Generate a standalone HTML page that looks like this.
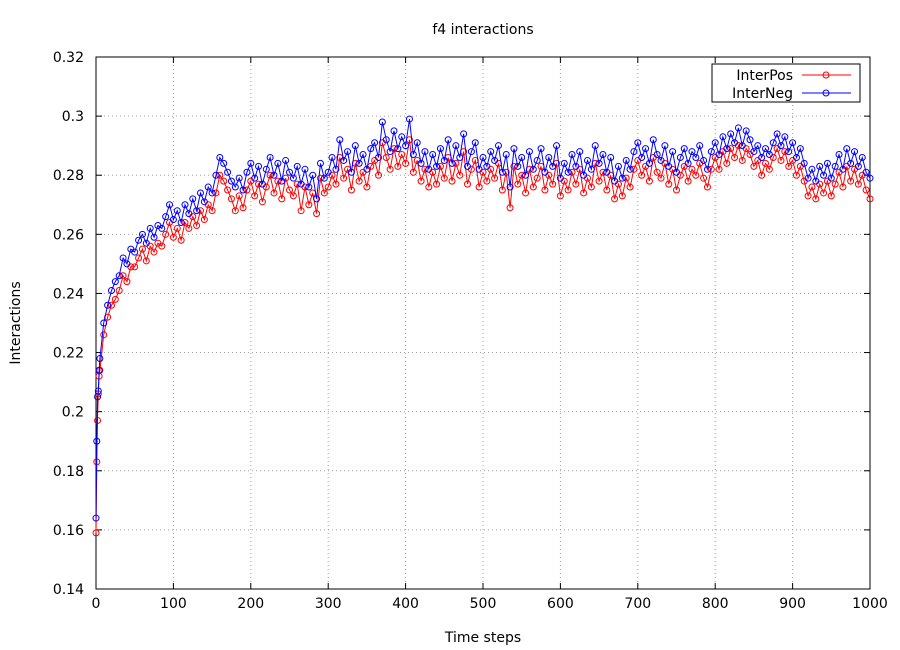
<!DOCTYPE html>
<html><head><meta charset="utf-8"><style>
body{margin:0;background:#fff}
svg{display:block;font-family:"DejaVu Sans","Liberation Sans",sans-serif}
</style></head><body>
<svg id="chart" width="900" height="650" viewBox="0 0 900 650">
<rect width="900" height="650" fill="#fff"/>
<text x="483" y="34" font-size="14" text-anchor="middle">f4 interactions</text>
<text x="483" y="642" font-size="14" text-anchor="middle">Time steps</text>
<text transform="translate(20,323) rotate(-90)" font-size="14" text-anchor="middle">Interactions</text>
<g id="grid"></g><g id="axes"></g><g id="series"></g>
<g>
<rect x="712" y="64" width="148" height="38" fill="#fff" stroke="#000"/>
<g>
<text x="793" y="80" font-size="14" text-anchor="end">InterPos</text>
<line x1="802" y1="75" x2="851" y2="75" stroke="#f00"/><circle cx="826" cy="75" r="3" fill="none" stroke="#f00"/></g>
<g>
<text x="793" y="98" font-size="14" text-anchor="end">InterNeg</text>
<line x1="802" y1="93" x2="851" y2="93" stroke="#00f"/><circle cx="826" cy="93" r="3" fill="none" stroke="#00f"/></g>
</g>
</svg>
<script>
const steps=[0,1,2,3,4,5,10,15,20,25,30,35,40,45,50,55,60,65,70,75,80,85,90,95,100,105,110,115,120,125,130,135,140,145,150,155,160,165,170,175,180,185,190,195,200,205,210,215,220,225,230,235,240,245,250,255,260,265,270,275,280,285,290,295,300,305,310,315,320,325,330,335,340,345,350,355,360,365,370,375,380,385,390,395,400,405,410,415,420,425,430,435,440,445,450,455,460,465,470,475,480,485,490,495,500,505,510,515,520,525,530,535,540,545,550,555,560,565,570,575,580,585,590,595,600,605,610,615,620,625,630,635,640,645,650,655,660,665,670,675,680,685,690,695,700,705,710,715,720,725,730,735,740,745,750,755,760,765,770,775,780,785,790,795,800,805,810,815,820,825,830,835,840,845,850,855,860,865,870,875,880,885,890,895,900,905,910,915,920,925,930,935,940,945,950,955,960,965,970,975,980,985,990,995,1000];
const interPos=[0.159,0.183,0.197,0.206,0.212,0.214,0.226,0.232,0.236,0.238,0.241,0.246,0.244,0.249,
0.249,0.252,0.255,0.251,0.256,0.254,0.257,0.256,0.260,0.264,
0.259,0.262,0.258,0.264,0.262,0.266,0.263,0.268,0.265,0.270,
0.268,0.274,0.280,0.278,0.275,0.272,0.268,0.273,0.269,0.275,
0.278,0.273,0.277,0.271,0.276,0.280,0.274,0.278,0.272,0.279,
0.275,0.273,0.277,0.268,0.276,0.270,0.274,0.267,0.279,0.274,
0.276,0.280,0.277,0.286,0.279,0.282,0.275,0.284,0.278,0.281,
0.276,0.283,0.285,0.280,0.291,0.286,0.282,0.289,0.283,0.287,
0.284,0.292,0.281,0.285,0.278,0.282,0.276,0.281,0.277,0.283,
0.279,0.286,0.278,0.284,0.280,0.288,0.277,0.282,0.285,0.276,
0.281,0.278,0.282,0.279,0.284,0.275,0.281,0.269,0.283,0.277,
0.280,0.274,0.282,0.276,0.279,0.283,0.275,0.280,0.277,0.284,
0.273,0.278,0.275,0.281,0.277,0.282,0.274,0.279,0.276,0.284,
0.278,0.281,0.275,0.280,0.272,0.277,0.273,0.279,0.276,0.282,
0.285,0.280,0.283,0.278,0.286,0.281,0.279,0.284,0.277,0.282,
0.275,0.280,0.283,0.278,0.282,0.280,0.284,0.279,0.276,0.282,
0.286,0.282,0.288,0.284,0.289,0.286,0.290,0.285,0.289,0.287,
0.283,0.285,0.280,0.284,0.282,0.286,0.289,0.285,0.288,0.283,
0.285,0.280,0.283,0.278,0.273,0.276,0.272,0.277,0.274,0.278,
0.273,0.277,0.281,0.276,0.283,0.278,0.282,0.277,0.280,0.275,0.272];
const interNeg=[0.164,0.190,0.205,0.207,0.214,0.218,0.230,0.236,0.241,0.244,0.246,0.252,0.250,0.255,
0.254,0.258,0.260,0.257,0.262,0.259,0.263,0.262,0.266,0.270,
0.265,0.268,0.264,0.270,0.267,0.272,0.268,0.274,0.271,0.276,
0.274,0.280,0.286,0.284,0.281,0.278,0.276,0.279,0.275,0.281,
0.284,0.279,0.283,0.277,0.282,0.286,0.280,0.284,0.278,0.285,
0.281,0.279,0.283,0.277,0.282,0.276,0.280,0.272,0.284,0.279,
0.281,0.286,0.282,0.292,0.285,0.288,0.281,0.290,0.284,0.287,
0.282,0.289,0.291,0.286,0.298,0.292,0.288,0.295,0.289,0.293,
0.290,0.299,0.287,0.291,0.284,0.288,0.282,0.287,0.283,0.289,
0.285,0.292,0.284,0.290,0.286,0.294,0.283,0.288,0.291,0.282,
0.286,0.283,0.288,0.285,0.290,0.281,0.287,0.276,0.289,0.283,
0.286,0.280,0.288,0.282,0.285,0.289,0.281,0.286,0.283,0.290,
0.279,0.284,0.281,0.287,0.283,0.288,0.280,0.285,0.282,0.290,
0.284,0.287,0.281,0.286,0.278,0.283,0.279,0.285,0.282,0.288,
0.291,0.286,0.289,0.284,0.292,0.287,0.285,0.290,0.283,0.288,
0.281,0.286,0.289,0.284,0.288,0.286,0.290,0.285,0.282,0.288,
0.291,0.287,0.293,0.289,0.294,0.291,0.296,0.290,0.295,0.292,
0.288,0.290,0.286,0.289,0.287,0.291,0.294,0.290,0.293,0.288,
0.291,0.286,0.289,0.284,0.279,0.282,0.278,0.283,0.280,0.284,
0.279,0.283,0.287,0.282,0.289,0.284,0.288,0.283,0.286,0.281,0.279];
const xTicks=[0,100,200,300,400,500,600,700,800,900,1000];
const yTicks=[0.14,0.16,0.18,0.2,0.22,0.24,0.26,0.28,0.3,0.32];
const yTickLabels=["0.14","0.16","0.18","0.2","0.22","0.24","0.26","0.28","0.3","0.32"];

const L=96,R=870,T=57,B=589,xMin=0,xMax=1000,yMin=0.14,yMax=0.32;
const xs=v=>L+(v-xMin)/(xMax-xMin)*(R-L);
const ys=v=>B-(v-yMin)/(yMax-yMin)*(B-T);
const NS="http://www.w3.org/2000/svg";
function mk(tag,attrs,parent){const e=document.createElementNS(NS,tag);for(const k in attrs)e.setAttribute(k,attrs[k]);parent.appendChild(e);return e;}
const grid=document.getElementById('grid'),axes=document.getElementById('axes'),series=document.getElementById('series');

xTicks.forEach(t=>{
  const x=xs(t);
  if(t>xMin&&t<xMax){const g=mk('line',{x1:x,y1:T,x2:x,y2:B,stroke:'#a0a0a0','stroke-dasharray':'1,3'},grid);
  
  }
  mk('line',{x1:x,y1:B,x2:x,y2:B-6,stroke:'#000'},axes);
  mk('line',{x1:x,y1:T,x2:x,y2:T+6,stroke:'#000'},axes);
  const tx=mk('text',{x:x,y:B+19,'font-size':14,'text-anchor':'middle'},axes);
  tx.textContent=t;
  
  
});
yTicks.forEach((t,i)=>{
  const y=ys(t);
  if(i>0&&i<yTicks.length-1){const g=mk('line',{x1:L,y1:y,x2:R,y2:y,stroke:'#a0a0a0','stroke-dasharray':'1,3'},grid);
  
  }
  mk('line',{x1:L,y1:y,x2:L+6,y2:y,stroke:'#000'},axes);
  mk('line',{x1:R,y1:y,x2:R-6,y2:y,stroke:'#000'},axes);
  const tx=mk('text',{x:L-12,y:y+5,'font-size':14,'text-anchor':'end'},axes);
  tx.textContent=yTickLabels[i];
  
  
});
const frame=mk('rect',{x:L,y:T,width:R-L,height:B-T,fill:'none',stroke:'#000'},axes);



function drawSeries(vals,color,name){
  const g=mk('g',{},series);
  
  
  const pts=vals.map((v,i)=>xs(steps[i]).toFixed(1)+','+ys(v).toFixed(1)).join(' ');
  const pl=mk('polyline',{points:pts,fill:'none',stroke:color,'stroke-width':1},g);
  
  
  vals.forEach((v,i)=>{
    const c=mk('circle',{cx:xs(steps[i]),cy:ys(v),r:3,fill:'none',stroke:color,'stroke-width':1},g);
    
    
  });
}
drawSeries(interPos,'#f00','interpos-series');
drawSeries(interNeg,'#00f','interneg-series');
</script>
</body></html>
